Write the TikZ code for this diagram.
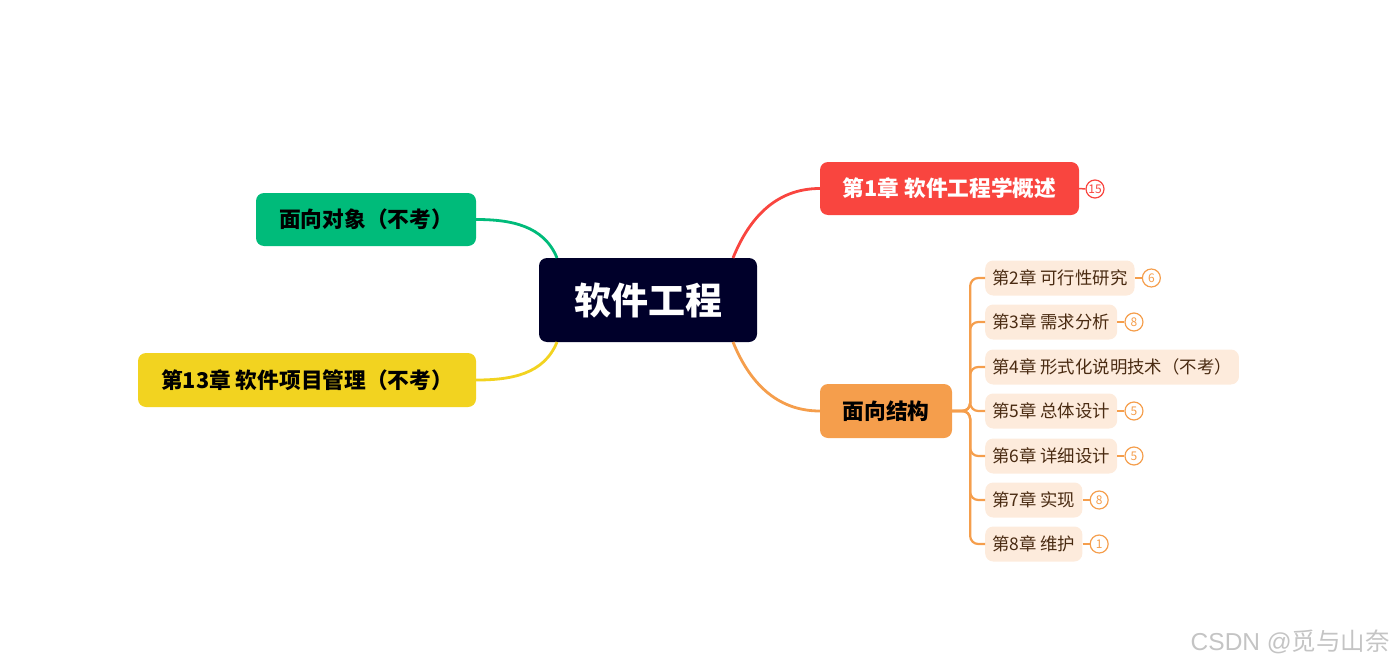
\documentclass[tikz,border=0pt]{standalone}
\usepackage{fontspec}
\usetikzlibrary{positioning}
\setmainfont{Noto Sans CJK SC}
\newfontfamily\wmlatin{Liberation Sans}
\definecolor{navy}{HTML}{00002A}
\definecolor{cred}{HTML}{F9453F}
\definecolor{corange}{HTML}{F59E4C}
\definecolor{cgreen}{HTML}{00BB7A}
\definecolor{cyellow}{HTML}{F2D320}
\definecolor{cpeach}{HTML}{FDEBDC}
\definecolor{cbrown}{HTML}{4A2B12}
\definecolor{wm}{HTML}{C4C4C4}
\tikzset{
  mainbox/.style={rounded corners=8pt, inner sep=0pt, font=\fontsize{21.7}{25}\selectfont\bfseries},
  subbox/.style={fill=cpeach, rounded corners=8pt, anchor=west, minimum height=35pt, inner ysep=0pt, inner xsep=7pt, text=cbrown, font=\fontsize{17.4}{20}\selectfont},
  badge/.style={circle, draw, fill=white, line width=1.2pt, minimum size=18pt, inner sep=0pt, font=\fontsize{12}{12}\selectfont},
  link/.style={line width=2.8pt},
}
\begin{document}
\begin{tikzpicture}[x=1pt,y=-1pt]
\useasboundingbox (0,0) rectangle (1396,666);
% central
\node[fill=navy, rounded corners=8pt, minimum width=218pt, minimum height=84pt, text=white, font=\fontsize{37}{40}\selectfont\bfseries] (c) at (648,300) {软件工程};
% first level
\node[mainbox, fill=cred, text=white, minimum width=259pt, minimum height=53pt] (ch1) at (949.5,188.5) {第1章 软件工程学概述};
\node[mainbox, fill=corange, text=black, minimum width=132pt, minimum height=54pt] (st) at (886,411) {面向结构};
\node[mainbox, fill=cgreen, text=black, minimum width=220pt, minimum height=53pt] (oo) at (366,219.5) {面向对象（不考）};
\node[mainbox, fill=cyellow, text=black, minimum width=338pt, minimum height=54pt] (ch13) at (307,380) {第13章 软件项目管理（不考）};
% anchors on central
\coordinate (cne) at (733,258);
\coordinate (cse) at (733,342);
\coordinate (cnw) at (557,258);
\coordinate (csw) at (557,342);
\draw[link, draw=cred] (cne) to[out=68, in=180] (ch1.west);
\draw[link, draw=corange] (cse) to[out=-68, in=180] (st.west);
\draw[link, draw=cgreen] (cnw) to[out=112, in=0] (oo.east);
\draw[link, draw=cyellow] (csw) to[out=-112, in=0] (ch13.east);
% badge ch1
\node[badge, draw=cred, text=cred] (b1) at (1095,189) {15};
\draw[line width=1.5pt, draw=cred] (ch1.east) -- (b1.west);
% sub nodes
\node[subbox] (s2) at (985,278) {第2章 可行性研究};
\node[subbox] (s3) at (985,322) {第3章 需求分析};
\node[subbox] (s4) at (985,367) {第4章 形式化说明技术（不考）};
\node[subbox] (s5) at (985,411) {第5章 总体设计};
\node[subbox] (s6) at (985,456) {第6章 详细设计};
\node[subbox] (s7) at (985,500) {第7章 实现};
\node[subbox] (s8) at (985,544) {第8章 维护};
\foreach \s in {s2,s3,s4,s5,s6,s7,s8}{
  \draw[line width=2.2pt, draw=corange, rounded corners=8pt] (st.east) -- ++(18,0) |- (\s.west);
}
% badges
\node[badge, draw=corange, text=corange, right=7pt of s2.east] (b2) {6};
\node[badge, draw=corange, text=corange, right=7pt of s3.east] (b3) {8};
\node[badge, draw=corange, text=corange, right=7pt of s5.east] (b5) {5};
\node[badge, draw=corange, text=corange, right=7pt of s6.east] (b6) {5};
\node[badge, draw=corange, text=corange, right=7pt of s7.east] (b7) {8};
\node[badge, draw=corange, text=corange, right=7pt of s8.east] (b8) {1};
\draw[line width=1.5pt, draw=corange] (s2.east) -- (b2.west);
\draw[line width=1.5pt, draw=corange] (s3.east) -- (b3.west);
\draw[line width=1.5pt, draw=corange] (s5.east) -- (b5.west);
\draw[line width=1.5pt, draw=corange] (s6.east) -- (b6.west);
\draw[line width=1.5pt, draw=corange] (s7.east) -- (b7.west);
\draw[line width=1.5pt, draw=corange] (s8.east) -- (b8.west);
% watermark
\node[anchor=east, text=wm, font=\fontsize{24.5}{26}\selectfont, inner sep=0pt] (wmk) at (1390,642) {{\wmlatin CSDN @}觅与山奈};
\end{tikzpicture}
\end{document}
